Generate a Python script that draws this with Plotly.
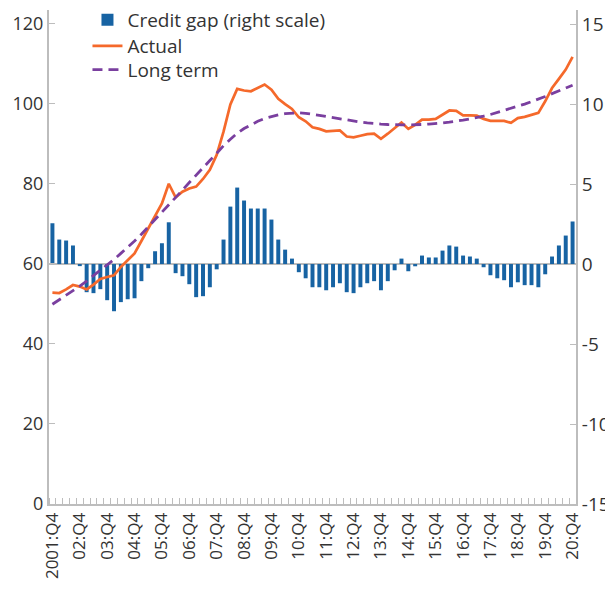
import plotly.graph_objects as go

# ---- data ----
year_labels = ["2001:Q4", "02:Q4", "03:Q4", "04:Q4", "05:Q4", "06:Q4", "07:Q4",
               "08:Q4", "09:Q4", "10:Q4", "11:Q4", "12:Q4", "13:Q4", "14:Q4",
               "15:Q4", "16:Q4", "17:Q4", "18:Q4", "19:Q4", "20:Q4"]

credit_gap = [2.55, 1.53, 1.47, 1.16, -0.13, -1.76, -1.82, -1.57, -2.26, -2.95,
              -2.38, -2.2, -2.14, -1.07, -0.26, 0.8, 1.3, 2.61, -0.57, -0.76,
              -1.26, -2.07, -2.01, -1.45, -0.33, 1.53, 3.59, 4.78, 3.97, 3.47,
              3.47, 3.47, 2.78, 1.53, 0.9, 0.34, -0.51, -0.89, -1.45, -1.45,
              -1.64, -1.45, -1.2, -1.76, -1.82, -1.45, -1.2, -1.07, -1.64, -1.07,
              -0.39, 0.34, -0.45, -0.14, 0.53, 0.41, 0.41, 0.84, 1.16, 1.09,
              0.53, 0.47, 0.34, -0.2, -0.7, -0.89, -1.01, -1.45, -1.14, -1.32,
              -1.32, -1.45, -0.64, 0.47, 1.16, 1.78, 2.66]

actual = [52.8, 52.7, 53.6, 54.7, 54.3, 53.6, 54.8, 56.2, 56.7, 57.1,
          59.2, 60.9, 62.6, 65.7, 68.8, 72.2, 75.1, 80.0, 76.6, 78.0,
          78.8, 79.3, 81.2, 83.5, 87.2, 93.0, 99.8, 103.7, 103.3, 103.1,
          103.9, 104.8, 103.5, 101.2, 99.9, 98.7, 96.6, 95.6, 94.1, 93.7,
          93.1, 93.2, 93.3, 91.8, 91.6, 92.0, 92.4, 92.5, 91.2, 92.5,
          93.9, 95.3, 93.7, 94.7, 96.0, 96.0, 96.2, 97.2, 98.3, 98.2,
          97.1, 97.1, 97.0, 96.2, 95.7, 95.7, 95.7, 95.2, 96.4, 96.7,
          97.2, 97.7, 100.6, 103.9, 106.2, 108.5, 111.7]

long_term = [49.9, 51.0, 52.1, 53.2, 54.4, 55.7, 57.0, 58.3, 59.7, 61.1,
             62.6, 64.1, 65.7, 67.4, 69.2, 71.0, 72.8, 74.7, 76.5, 78.4,
             80.3, 82.2, 84.0, 85.8, 87.6, 89.5, 91.1, 92.6, 93.8, 94.8,
             95.6, 96.3, 96.8, 97.2, 97.5, 97.6, 97.7, 97.6, 97.4, 97.1,
             96.8, 96.5, 96.2, 95.9, 95.6, 95.4, 95.2, 95.0, 94.9, 94.8,
             94.7, 94.7, 94.7, 94.7, 94.8, 94.9, 95.0, 95.2, 95.4, 95.6,
             95.9, 96.2, 96.5, 96.9, 97.3, 97.8, 98.3, 98.8, 99.3, 99.9,
             100.5, 101.1, 101.8, 102.5, 103.2, 103.9, 104.6]

left_ticks = [0, 20, 40, 60, 80, 100, 120]
right_ticks = [-15, -10, -5, 0, 5, 10, 15]

# ---- figure ----
n = len(actual)
x = list(range(n))
label_pos = list(range(0, n, 4))

BLUE = "#1763A3"
ORANGE = "#F5692B"
PURPLE = "#7A3F9F"
GREY = "#BDBDBD"
TXT = "#333333"
FONT = "Open Sans"

fig = go.Figure()
fig.add_trace(go.Bar(x=x, y=credit_gap, name="Credit gap (right scale)",
                     marker=dict(color=BLUE, line=dict(width=0)), yaxis="y",
                     legend="legend"))
fig.add_trace(go.Scatter(x=x, y=actual, name="Actual", mode="lines",
                         line=dict(color=ORANGE, width=2.7), yaxis="y2",
                         legend="legend2"))
fig.add_trace(go.Scatter(x=x, y=long_term, name="Long term", mode="lines",
                         line=dict(color=PURPLE, width=2.8, dash="10px,6px"),
                         yaxis="y2", legend="legend3"))

def legend_box(ypos):
    return dict(x=0.073, y=ypos, xanchor="left", yanchor="middle",
                bgcolor="rgba(0,0,0,0)",
                font=dict(family=FONT, size=19, color=TXT))

# the page body adds an 8px offset, so the figure is 8px smaller each way
fig.update_layout(
    width=605, height=585,
    margin=dict(l=41, r=37, t=2, b=89, autoexpand=False),
    plot_bgcolor="white", paper_bgcolor="white",
    font=dict(family=FONT, size=18, color=TXT),
    bargap=0.42,
    showlegend=True,
    legend=legend_box(0.980),
    legend2=legend_box(0.927),
    legend3=legend_box(0.879),
    xaxis=dict(range=[-0.5, n - 0.5], showgrid=False, zeroline=False,
               automargin=False,
               showline=True, linecolor=GREY, linewidth=2,
               tickmode="array", tickvals=label_pos, ticktext=year_labels,
               tickangle=-90, ticks="", tickfont=dict(size=17, color=TXT),
               minor=dict(tickmode="linear", tick0=-0.5, dtick=1,
                          ticks="inside", ticklen=6, tickcolor=GREY,
                          tickwidth=1)),
    yaxis=dict(side="right", range=[-15, 15.88], showgrid=False,
               automargin=False,
               zeroline=True, zerolinecolor=GREY, zerolinewidth=2,
               showline=True, linecolor=GREY, linewidth=2,
               tickmode="array", tickvals=right_ticks,
               ticktext=[str(v) for v in right_ticks],
               ticks="inside", ticklen=6, tickcolor=GREY, tickwidth=1,
               tickfont=dict(size=19, color=TXT)),
    yaxis2=dict(side="left", overlaying="y", range=[0, 123.4],
                showgrid=False, zeroline=False, automargin=False,
                showline=True, linecolor=GREY, linewidth=2,
                tickmode="array", tickvals=left_ticks,
                ticks="inside", ticklen=6, tickcolor=GREY, tickwidth=1,
                tickfont=dict(size=18, color=TXT)),
)

fig.write_html("out.html")
